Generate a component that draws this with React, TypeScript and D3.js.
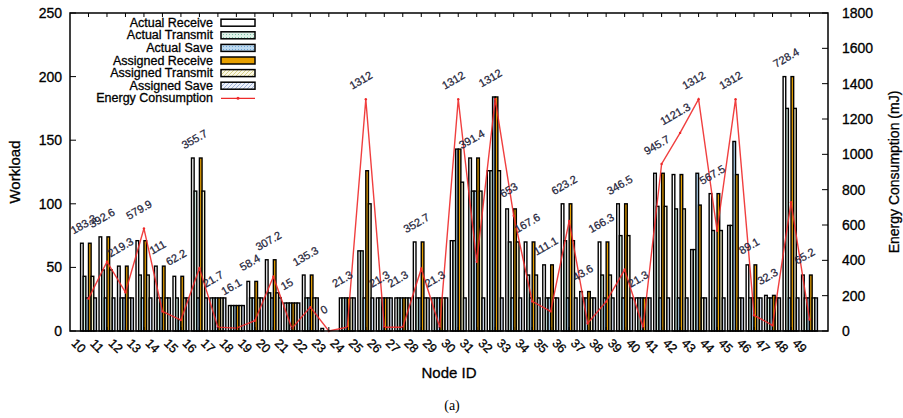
import React, { useRef, useEffect } from "react";
import { select, scaleLinear, line } from "d3";

const nodeIds = [10, 11, 12, 13, 14, 15, 16, 17, 18, 19, 20, 21, 22, 23, 24, 25, 26, 27, 28, 29,
  30, 31, 32, 33, 34, 35, 36, 37, 38, 39, 40, 41, 42, 43, 44, 45, 46, 47, 48, 49];

const actualReceive = [69, 74, 51, 71, 51, 43, 136, 26, 20, 39, 56, 22, 44, 2, 26, 63, 26, 26, 70, 26,
  71, 136, 126, 96, 70, 52, 100, 31, 70, 100, 26, 124, 123, 64, 108, 83, 52, 28, 200, 44];
const actualTransmit = [43, 48, 26, 44, 26, 26, 110, 26, 20, 26, 30, 22, 26, 0, 26, 63, 26, 26, 26, 26,
  71, 110, 126, 70, 44, 26, 71, 26, 44, 75, 26, 98, 96, 64, 79, 83, 26, 26, 175, 26];
const actualSave = [26, 26, 26, 26, 26, 9, 26, 26, 20, 26, 26, 22, 26, 0, 26, 26, 26, 26, 26, 26,
  143, 110, 184, 26, 26, 26, 26, 26, 26, 26, 26, 26, 26, 124, 26, 149, 26, 26, 26, 26];
const assignedReceive = [69, 74, 51, 71, 51, 43, 136, 26, 20, 39, 56, 22, 44, 0, 26, 126, 26, 26, 70, 26,
  143, 136, 184, 96, 70, 52, 100, 31, 70, 100, 26, 124, 123, 99, 108, 123, 52, 28, 200, 44];
const assignedTransmit = [43, 48, 26, 44, 26, 26, 110, 26, 20, 26, 30, 22, 26, 0, 26, 100, 26, 26, 26, 26,
  117, 110, 126, 70, 44, 26, 71, 26, 44, 75, 26, 98, 96, 26, 79, 26, 26, 26, 175, 26];
const assignedSave = [26, 26, 26, 26, 26, 26, 26, 26, 20, 26, 26, 22, 26, 0, 26, 26, 26, 26, 26, 26,
  26, 26, 26, 26, 26, 26, 26, 26, 26, 26, 26, 26, 26, 26, 26, 26, 26, 26, 26, 26];

const energy = [183.3, 392.6, 219.3, 579.9, 111, 62.2, 355.7, 21.7, 16.1, 58.4,
  307.2, 15, 135.3, 0, 21.3, 1312, 21.3, 21.3, 352.7, 21.3,
  1312, 391.4, 1312, 653, 167.6, 111.1, 623.2, 43.6, 166.3, 346.5,
  21.3, 945.7, 1121.3, 1312, 567.5, 1312, 89.1, 32.3, 728.4, 65.2];

const workloadTicks = [0, 50, 100, 150, 200, 250];
const energyTicks = [0, 200, 400, 600, 800, 1000, 1200, 1400, 1600, 1800];

const seriesNames = ["Actual Receive", "Actual Transmit", "Actual Save",
  "Assigned Receive", "Assigned Transmit", "Assigned Save"];
const seriesFills = ["#ffffff", "url(#pAT)", "url(#pAS)", "#e69f00", "url(#pGT)", "url(#pGS)"];
const barFills = ["#ffffff", "#cfe8dc", "#a9cde9", "#e69f00", "#f4eec6", "#d6e0f2"];

const sans = "'Liberation Sans', Arial, sans-serif";

function App() {
  const svgRef = useRef(null);

  useEffect(() => {
    const svg = select(svgRef.current);
    svg.selectAll("*").remove();

    const left = 70, right = 828, top = 13, bottom = 331;
    const x = scaleLinear().domain([-1, 40]).range([left, right]);
    const yWork = scaleLinear().domain([0, 250]).range([bottom, top]);
    const yEnergy = scaleLinear().domain([0, 1800]).range([bottom, top]);
    const slot = (x(1) - x(0)) / 7;
    const series = [actualReceive, actualTransmit, actualSave, assignedReceive, assignedTransmit, assignedSave];

    // fill patterns for legend swatches
    const defs = svg.append("defs");
    const dots = (id, bg, dot) => {
      const p = defs.append("pattern").attr("id", id).attr("width", 3).attr("height", 3)
        .attr("patternUnits", "userSpaceOnUse");
      p.append("rect").attr("width", 3).attr("height", 3).attr("fill", bg);
      p.append("rect").attr("x", 1).attr("y", 1).attr("width", 1).attr("height", 1).attr("fill", dot);
    };
    const hatch = (id, bg, ln) => {
      const p = defs.append("pattern").attr("id", id).attr("width", 4).attr("height", 4)
        .attr("patternUnits", "userSpaceOnUse");
      p.append("rect").attr("width", 4).attr("height", 4).attr("fill", bg);
      p.append("path").attr("d", "M0,4 L4,0").attr("stroke", ln).attr("stroke-width", 1);
    };
    dots("pAT", "#dff1e8", "#7fbfa5");
    dots("pAS", "#bcd9f0", "#6fa6d6");
    hatch("pGT", "#fbf8e4", "#d8cf8a");
    hatch("pGS", "#eef2fa", "#9fb3da");

    // bars
    const bars = svg.append("g");
    series.forEach((vals, s) => {
      bars.selectAll(".b" + s)
        .data(vals.map((v, i) => ({ v, i })).filter((d) => d.v > 0))
        .join("rect")
        .attr("x", (d) => x(d.i) - 3 * slot + s * slot)
        .attr("y", (d) => yWork(d.v))
        .attr("width", slot)
        .attr("height", (d) => bottom - yWork(d.v))
        .attr("fill", barFills[s])
        .attr("stroke", "#000")
        .attr("stroke-width", 1.4);
    });

    // energy line
    const eLine = line()
      .x((d, i) => x(i))
      .y((d) => yEnergy(d));
    svg.append("path")
      .datum(energy)
      .attr("d", eLine)
      .attr("fill", "none")
      .attr("stroke", "#ee2a2a")
      .attr("stroke-width", 1.4)
      .attr("stroke-opacity", 0.9);
    svg.append("g").selectAll("circle")
      .data(energy)
      .join("circle")
      .attr("cx", (d, i) => x(i))
      .attr("cy", (d) => yEnergy(d))
      .attr("r", 1.2)
      .attr("fill", "#ee2a2a");

    // energy labels
    svg.append("g").selectAll("text")
      .data(energy)
      .join("text")
      .attr("transform", (d, i) => {
        const maxBar = Math.max(...series.map((sv) => sv[i]));
        const ly = Math.min(yWork(maxBar), yEnergy(d)) - 19;
        return `translate(${x(i) - 5},${ly}) rotate(-30)`;
      })
      .attr("text-anchor", "middle")
      .attr("dominant-baseline", "central")
      .attr("font-family", sans)
      .attr("font-size", 11)
      .attr("fill", "#1d2238")
      .attr("stroke", "#1d2238")
      .attr("stroke-width", 0.25)
      .text((d) => String(d));

    // frame
    svg.append("rect")
      .attr("x", left).attr("y", top)
      .attr("width", right - left).attr("height", bottom - top)
      .attr("fill", "none").attr("stroke", "#000").attr("stroke-width", 1.5);

    const heavy = (sel) => sel.attr("stroke", "#000").attr("stroke-width", 0.3);

    // x ticks and labels
    const xt = svg.append("g");
    nodeIds.forEach((id, i) => {
      xt.append("line").attr("x1", x(i)).attr("x2", x(i)).attr("y1", top).attr("y2", top + 4)
        .attr("stroke", "#000");
      xt.append("line").attr("x1", x(i)).attr("x2", x(i)).attr("y1", bottom).attr("y2", bottom - 4)
        .attr("stroke", "#000");
      xt.append("text")
        .attr("transform", `translate(${x(i) - 10},${bottom + 15}) rotate(45)`)
        .attr("text-anchor", "middle")
        .attr("dominant-baseline", "central")
        .attr("font-family", sans)
        .attr("font-size", 12.5)
        .call(heavy)
        .text(id);
    });

    // left axis
    const ly = svg.append("g");
    workloadTicks.forEach((t) => {
      ly.append("line").attr("x1", left).attr("x2", left + 6).attr("y1", yWork(t)).attr("y2", yWork(t))
        .attr("stroke", "#000");
      ly.append("text").attr("x", left - 8).attr("y", yWork(t))
        .attr("text-anchor", "end").attr("dominant-baseline", "central")
        .attr("font-family", sans).attr("font-size", 14).call(heavy).text(t);
    });

    // right axis
    const ry = svg.append("g");
    energyTicks.forEach((t) => {
      ry.append("line").attr("x1", right).attr("x2", right - 6).attr("y1", yEnergy(t)).attr("y2", yEnergy(t))
        .attr("stroke", "#000");
      ry.append("text").attr("x", right + 14).attr("y", yEnergy(t))
        .attr("text-anchor", "start").attr("dominant-baseline", "central")
        .attr("font-family", sans).attr("font-size", 14).call(heavy).text(t);
    });

    // axis titles
    svg.append("text")
      .attr("transform", `translate(20,${(top + bottom) / 2}) rotate(-90)`)
      .attr("text-anchor", "middle").attr("font-family", sans).attr("font-size", 15)
      .call(heavy).text("Workload");
    svg.append("text")
      .attr("transform", `translate(899,${(top + bottom) / 2}) rotate(-90)`)
      .attr("text-anchor", "middle").attr("font-family", sans).attr("font-size", 14)
      .call(heavy).text("Energy Consumption (mJ)");
    svg.append("text")
      .attr("x", (left + right) / 2).attr("y", 378)
      .attr("text-anchor", "middle").attr("font-family", sans).attr("font-size", 15)
      .call(heavy).text("Node ID");
    svg.append("text")
      .attr("x", 452).attr("y", 410)
      .attr("text-anchor", "middle").attr("font-family", "'Liberation Serif', 'Times New Roman', serif")
      .attr("font-size", 14)
      .text("(a)");

    // legend
    const lg = svg.append("g");
    const rowH = 12.6;
    seriesNames.forEach((name, k) => {
      const cy = 22.7 + k * rowH;
      lg.append("text").attr("x", 213).attr("y", cy)
        .attr("text-anchor", "end").attr("dominant-baseline", "central")
        .attr("font-family", sans).attr("font-size", 12.5).call(heavy).text(name);
      lg.append("rect").attr("x", 221).attr("y", cy - 3.5).attr("width", 34).attr("height", 7)
        .attr("fill", seriesFills[k]).attr("stroke", "#000").attr("stroke-width", 1.5);
    });
    const ey = 22.7 + 6 * rowH;
    lg.append("text").attr("x", 213).attr("y", ey)
      .attr("text-anchor", "end").attr("dominant-baseline", "central")
      .attr("font-family", sans).attr("font-size", 12.5).call(heavy).text("Energy Consumption");
    lg.append("line").attr("x1", 221).attr("x2", 255).attr("y1", ey).attr("y2", ey)
      .attr("stroke", "#ee2a2a").attr("stroke-width", 1.3);
    lg.append("circle").attr("cx", 238).attr("cy", ey).attr("r", 1.5).attr("fill", "#ee2a2a");
  }, []);

  return (
    <svg ref={svgRef} width={903} height={418}
      style={{ position: "absolute", left: 0, top: 0, background: "#fff" }} />
  );
}

export default App;
